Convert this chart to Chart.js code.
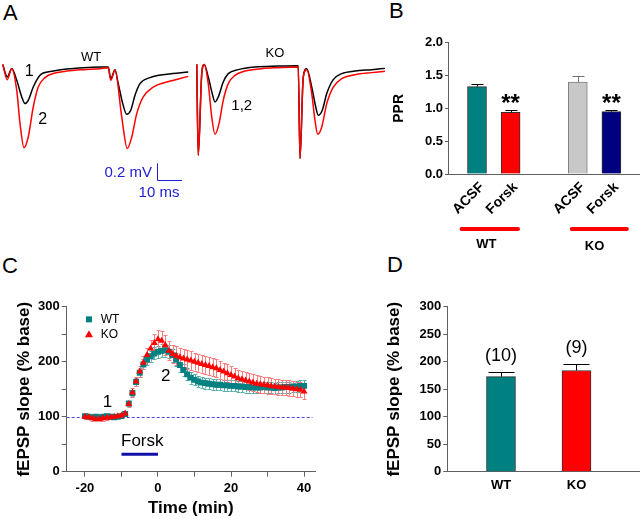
<!DOCTYPE html>
<html>
<head>
<meta charset="utf-8">
<script src="https://cdn.jsdelivr.net/npm/chart.js@4.4.0/dist/chart.umd.min.js"></script>
<style>
  body { margin: 0; background: #fff; }
  #page { position: relative; width: 640px; height: 519px; overflow: hidden; font-family: 'Liberation Sans', Arial, sans-serif; }
  canvas { position: absolute; }
  .letter { position: absolute; font-size: 22px; line-height: 22px; color: #000; }
</style>
</head>
<body>
<div id="page">
  <div class="letter" style="left:3px;top:2px">A</div>
  <div class="letter" style="left:389px;top:0px">B</div>
  <div class="letter" style="left:2px;top:255px">C</div>
  <div class="letter" style="left:387px;top:254px">D</div>
  <canvas id="traces" width="390" height="180" style="left:0;top:30px"></canvas>
  <canvas id="ppr" width="250" height="250" style="left:390px;top:20px"></canvas>
  <canvas id="timecourse" width="330" height="239" style="left:0;top:280px"></canvas>
  <canvas id="ltp" width="270" height="239" style="left:370px;top:280px"></canvas>
</div>
<script>
const FONT = "'Liberation Sans', Arial, sans-serif";
const TEAL = '#008080';
const RED = '#ff0000';
const NAVY = '#000080';
const GRAY = '#c8c8c8';
const AXIS = '#606060';

Chart.defaults.font.family = FONT;
Chart.defaults.color = '#000';

// A : field potential traces, time in ms, amplitude in mV
const wtPreT = [1.1, 2.9, 4.7, 6.7, 8.7, 10.0, 11.3, 13.3, 16.0, 17.3, 21.3, 26.7, 33.3, 40.0, 43.3, 44.3, 46.0, 47.3, 49.1, 50.7, 52.3, 54.0, 56.0, 60.0, 66.7, 75.3];
const wtPreV = [0.035, -0.114, -0.012, -0.153, -0.349, -0.427, -0.388, -0.232, -0.094, -0.067, -0.044, -0.020, -0.004, 0.004, 0.004, -0.133, -0.027, -0.192, -0.427, -0.553, -0.506, -0.329, -0.192, -0.121, -0.082, -0.055];
const wtForskT = [1.1, 2.9, 4.7, 6.7, 8.0, 9.6, 11.3, 13.3, 15.3, 18.0, 22.0, 26.7, 33.3, 40.0, 43.3, 44.3, 46.0, 48.7, 50.9, 52.7, 54.7, 57.3, 61.3, 66.7, 75.3];
const wtForskV = [0.035, -0.145, -0.015, -0.271, -0.659, -0.945, -0.820, -0.467, -0.232, -0.121, -0.067, -0.044, -0.027, -0.015, -0.004, -0.153, -0.035, -0.585, -0.956, -0.820, -0.545, -0.349, -0.232, -0.173, -0.106];
const koPreT = [78.7, 79.3, 80.7, 81.7, 83.3, 84.9, 86.0, 87.3, 89.3, 91.3, 95.3, 102.0, 111.3, 119.3, 120.0, 121.3, 122.7, 124.7, 126.3, 127.3, 128.9, 130.7, 133.3, 136.7, 142.0, 148.7, 154.0];
const koPreV = [0.035, -1.035, -0.074, 0.035, -0.114, -0.309, -0.408, -0.349, -0.173, -0.074, -0.027, 0.004, 0.015, 0.020, -1.074, -0.114, -0.015, -0.232, -0.467, -0.565, -0.506, -0.309, -0.145, -0.074, -0.044, -0.027, -0.012];
const koForskT = [78.7, 79.3, 80.7, 81.7, 83.3, 84.7, 86.0, 87.6, 89.3, 91.3, 94.0, 98.0, 104.7, 111.3, 119.3, 120.0, 121.3, 122.7, 124.7, 126.0, 127.1, 128.7, 130.7, 133.3, 136.7, 142.0, 148.7, 154.0];
const koForskV = [0.035, -1.035, -0.074, 0.035, -0.192, -0.585, -0.788, -0.662, -0.388, -0.192, -0.094, -0.044, -0.015, -0.004, 0.004, -1.074, -0.114, -0.027, -0.309, -0.624, -0.788, -0.702, -0.427, -0.232, -0.133, -0.086, -0.062, -0.047];

// B : paired pulse ratio
const pprGroups = ['ACSF', 'Forsk', 'ACSF', 'Forsk'];
const pprPos = [1, 2, 4, 5];
const pprMean = [1.33, 0.94, 1.40, 0.95];
const pprSem = [0.04, 0.035, 0.09, 0.03];
const pprStars = ['', '**', '', '**'];
const pprColors = [TEAL, RED, GRAY, NAVY];

// C : fEPSP slope time course
const timeMin = [-20, -19, -18, -17, -16, -15, -14, -13, -12, -11, -10, -9, -8, -7, -6, -5, -4, -3, -2, -1, 0,
  1, 2, 3, 4, 5, 6, 7, 8, 9, 10, 11, 12, 13, 14, 15, 16, 17, 18, 19, 20,
  21, 22, 23, 24, 25, 26, 27, 28, 29, 30, 31, 32, 33, 34, 35, 36, 37, 38, 39, 40];
const wtSlope = [101, 100, 99, 100, 99, 100, 101, 100, 99, 100, 101,
  105, 124, 143, 163, 180, 195, 204, 210, 215, 218,
  220, 221, 218, 212, 204, 194, 185, 177, 171, 167,
  164, 162, 161, 160, 159, 158, 158, 157, 157, 156,
  156, 155, 155, 154, 154, 153, 153, 153, 154, 153,
  153, 152, 153, 153, 154, 154, 155, 155, 156, 156];
const wtSem = [3, 3, 3, 3, 3, 3, 3, 3, 3, 3, 3,
  4, 5, 6, 7, 8, 9, 10, 10, 11, 11,
  12, 12, 12, 12, 12, 12, 11, 11, 11, 10,
  10, 10, 10, 10, 10, 10, 10, 10, 10, 10,
  10, 10, 10, 10, 10, 10, 10, 10, 10, 10,
  10, 10, 10, 10, 10, 10, 10, 10, 11, 11];
const koSlope = [100, 99, 97, 96, 96, 97, 98, 99, 100, 101, 102,
  106, 123, 144, 164, 182, 198, 212, 224, 234, 241,
  238, 230, 220, 214, 211, 208, 206, 204, 202, 200,
  198, 196, 194, 192, 190, 188, 185, 182, 179, 176,
  173, 170, 168, 166, 164, 162, 160, 159, 158, 157,
  156, 155, 154, 153, 153, 152, 151, 150, 149, 146];
const koSem = [4, 4, 4, 4, 4, 4, 4, 4, 4, 4, 4,
  5, 6, 8, 9, 10, 12, 13, 15, 16, 17,
  18, 18, 17, 17, 17, 17, 17, 17, 17, 16,
  16, 16, 16, 16, 16, 16, 16, 16, 16, 16,
  15, 15, 15, 15, 15, 15, 15, 15, 15, 15,
  14, 14, 14, 14, 14, 14, 14, 14, 14, 14];

// D : potentiation summary
const ltpGroups = ['WT', 'KO'];
const ltpPos = [1, 2];
const ltpMean = [173, 184];
const ltpSem = [9, 12];
const ltpN = [10, 9];
const ltpColors = [TEAL, RED];

function pts(xs, ys) {
  return xs.map((x, i) => ({ x: x, y: ys[i] }));
}

function drawErrors(chart, upOnly) {
  const ctx = chart.ctx;
  chart.data.datasets.forEach((ds, i) => {
    if (!ds.errors) return;
    const meta = chart.getDatasetMeta(i);
    const yScale = chart.scales[meta.yAxisID];
    ctx.save();
    ctx.lineWidth = 1;
    meta.data.forEach((el, j) => {
      const v = ds.data[j].y;
      const e = ds.errors[j];
      const x = Math.round(el.x) + 0.5;
      const top = Math.round(yScale.getPixelForValue(v + e)) + 0.5;
      const bot = yScale.getPixelForValue(upOnly ? v : v - e);
      const cap = ds.capHalf || 2;
      ctx.strokeStyle = Array.isArray(ds.errorColor) ? ds.errorColor[j] : ds.errorColor;
      ctx.beginPath();
      ctx.moveTo(x, top);
      ctx.lineTo(x, bot);
      ctx.moveTo(x - cap, top);
      ctx.lineTo(x + cap, top);
      if (!upOnly) {
        ctx.moveTo(x - cap, Math.round(bot) + 0.5);
        ctx.lineTo(x + cap, Math.round(bot) + 0.5);
      }
      ctx.stroke();
    });
    ctx.restore();
  });
}

function text(ctx, str, x, y, size, opts) {
  opts = opts || {};
  ctx.font = (opts.bold ? 'bold ' : '') + size + 'px ' + FONT;
  ctx.fillStyle = opts.color || '#000';
  ctx.textAlign = opts.align || 'center';
  ctx.textBaseline = opts.baseline || 'middle';
  ctx.fillText(str, x, y);
}

const noLegend = { legend: { display: false }, tooltip: { enabled: false } };

// ---------- A ----------
const traceNotes = {
  id: 'traceNotes',
  afterDraw(chart) {
    const { ctx, scales: { x, y } } = chart;
    ctx.save();
    text(ctx, 'WT', x.getPixelForValue(36.4), y.getPixelForValue(0.118), 13);
    text(ctx, '1', x.getPixelForValue(11.7), y.getPixelForValue(-0.055), 16);
    text(ctx, '2', x.getPixelForValue(17.1), y.getPixelForValue(-0.615), 16);
    text(ctx, 'KO', x.getPixelForValue(110), y.getPixelForValue(0.165), 13);
    text(ctx, '1,2', x.getPixelForValue(96.7), y.getPixelForValue(-0.459), 15);

    // scale bar 0.2 mV / 10 ms
    const bx = Math.round(x.getPixelForValue(62.8)) + 0.5;
    const by = Math.round(y.getPixelForValue(-1.33)) + 0.5;
    ctx.strokeStyle = '#2020d0';
    ctx.lineWidth = 1;
    ctx.beginPath();
    ctx.moveTo(bx, y.getPixelForValue(-1.13));
    ctx.lineTo(bx, by);
    ctx.lineTo(x.getPixelForValue(72.8), by);
    ctx.stroke();
    text(ctx, '0.2 mV', x.getPixelForValue(60.8), y.getPixelForValue(-1.244), 15, { align: 'right', color: '#2020d0' });
    text(ctx, '10 ms', x.getPixelForValue(63.6), y.getPixelForValue(-1.479), 15, { color: '#2020d0' });
    ctx.restore();
  }
};

new Chart(document.getElementById('traces'), {
  type: 'scatter',
  data: {
    datasets: [
      { data: pts(wtPreT, wtPreV), borderColor: '#000', showLine: true, order: 2 },
      { data: pts(wtForskT, wtForskV), borderColor: RED, showLine: true, order: 1 },
      { data: pts(koPreT, koPreV), borderColor: '#000', showLine: true, order: 2 },
      { data: pts(koForskT, koForskV), borderColor: RED, showLine: true, order: 1 }
    ]
  },
  options: {
    responsive: false,
    animation: false,
    layout: { padding: 0 },
    elements: {
      point: { radius: 0 },
      line: { borderWidth: 1.5, cubicInterpolationMode: 'monotone' }
    },
    plugins: noLegend,
    scales: {
      x: { type: 'linear', display: false, min: 0, max: 156 },
      y: { type: 'linear', display: false, min: -1.68, max: 0.44 }
    }
  },
  plugins: [traceNotes]
});

// ---------- B ----------
const pprNotes = {
  id: 'pprNotes',
  afterDatasetsDraw(chart) {
    drawErrors(chart, true);
    const { ctx, scales: { x, y } } = chart;
    ctx.save();
    pprPos.forEach((p, i) => {
      if (!pprStars[i]) return;
      text(ctx, pprStars[i], x.getPixelForValue(p), y.getPixelForValue(pprMean[i] + pprSem[i]) + 1, 24, { bold: true, baseline: 'alphabetic' });
    });
    const lineY = y.bottom + 55;
    [[0.54, 2.22], [3.82, 5.46]].forEach(g => {
      ctx.strokeStyle = RED;
      ctx.lineWidth = 4;
      ctx.lineCap = 'round';
      ctx.beginPath();
      ctx.moveTo(x.getPixelForValue(g[0]), lineY);
      ctx.lineTo(x.getPixelForValue(g[1]), lineY);
      ctx.stroke();
    });
    text(ctx, 'WT', x.getPixelForValue(1.28), y.bottom + 70, 13, { bold: true });
    text(ctx, 'KO', x.getPixelForValue(4.5), y.bottom + 72, 13, { bold: true });
    ctx.restore();
  }
};

new Chart(document.getElementById('ppr'), {
  type: 'bar',
  data: {
    datasets: [{
      data: pts(pprPos, pprMean),
      errors: pprSem,
      errorColor: ['#000', '#000', '#707070', '#000'],
      capHalf: 6,
      backgroundColor: pprColors,
      borderColor: ['#303030', '#303030', '#808080', '#303030'],
      borderWidth: 1,
      barThickness: 19
    }]
  },
  options: {
    responsive: false,
    animation: false,
    layout: { padding: { left: 0, top: 22.7, right: 0, bottom: 36 } },
    plugins: noLegend,
    scales: {
      x: {
        type: 'linear', min: 0.137, max: 5.851, offset: false,
        afterBuildTicks: s => { s.ticks = pprPos.map(v => ({ value: v })); },
        afterFit: s => { s.height = 60; },
        grid: { display: false, drawTicks: false, offset: false },
        border: { display: true, color: AXIS },
        ticks: {
          autoSkip: false, minRotation: 45, maxRotation: 45, padding: 5, labelOffset: 5,
          color: '#000', font: { size: 14, weight: 'bold' },
          callback: v => pprGroups[pprPos.indexOf(v)] || ''
        }
      },
      y: {
        min: 0, max: 2,
        afterBuildTicks: s => { s.ticks = [0, 0.25, 0.5, 0.75, 1, 1.25, 1.5, 1.75, 2].map(v => ({ value: v })); },
        afterFit: s => { s.width = 58; },
        grid: { drawOnChartArea: false, tickLength: 3, color: AXIS },
        border: { display: true, color: AXIS },
        ticks: {
          padding: 2, color: '#000', font: { size: 13, weight: 'bold' },
          callback: v => (v * 2) % 1 === 0 ? v.toFixed(1) : ''
        },
        title: { display: true, text: 'PPR', color: '#000', font: { size: 14, weight: 'bold' }, padding: { top: 1, bottom: 0 } }
      }
    }
  },
  plugins: [pprNotes]
});

// ---------- C ----------
const timeNotes = {
  id: 'timeNotes',
  beforeDatasetsDraw(chart) {
    const { ctx, scales: { x, y } } = chart;
    ctx.save();
    ctx.strokeStyle = '#4a4ad0';
    ctx.lineWidth = 1;
    ctx.setLineDash([3, 2]);
    const by = Math.round(y.getPixelForValue(100)) + 0.5;
    ctx.beginPath();
    ctx.moveTo(x.left, by);
    ctx.lineTo(x.getPixelForValue(42.3), by);
    ctx.stroke();
    ctx.restore();
    drawErrors(chart, false);
  },
  afterDatasetsDraw(chart) {
    const { ctx, scales: { x, y } } = chart;
    ctx.save();
    text(ctx, '1', x.getPixelForValue(-13.8), y.getPixelForValue(127), 17);
    text(ctx, '2', x.getPixelForValue(2.1), y.getPixelForValue(173), 17);
    text(ctx, 'Forsk', x.getPixelForValue(-4.3), y.getPixelForValue(56), 17);
    ctx.strokeStyle = '#1010a8';
    ctx.lineWidth = 3;
    ctx.beginPath();
    ctx.moveTo(x.getPixelForValue(-10), y.getPixelForValue(31.6));
    ctx.lineTo(x.getPixelForValue(0), y.getPixelForValue(31.6));
    ctx.stroke();

    // legend
    const lx = x.getPixelForValue(-18.9);
    const wy = y.getPixelForValue(277);
    const ky = y.getPixelForValue(250);
    ctx.fillStyle = TEAL;
    ctx.fillRect(lx - 3, wy - 3, 6, 6);
    ctx.fillStyle = RED;
    ctx.beginPath();
    ctx.moveTo(lx, ky - 4);
    ctx.lineTo(lx + 4, ky + 3);
    ctx.lineTo(lx - 4, ky + 3);
    ctx.closePath();
    ctx.fill();
    text(ctx, 'WT', x.getPixelForValue(-15.7), wy, 12, { align: 'left' });
    text(ctx, 'KO', x.getPixelForValue(-15.7), ky, 12, { align: 'left' });
    ctx.restore();
  }
};

new Chart(document.getElementById('timecourse'), {
  type: 'scatter',
  data: {
    datasets: [
      {
        label: 'WT', data: pts(timeMin, wtSlope), errors: wtSem, errorColor: '#5aadad', capHalf: 2,
        pointStyle: 'rect', pointRadius: 4.2, pointBorderWidth: 0,
        backgroundColor: TEAL, borderColor: TEAL, order: 2
      },
      {
        label: 'KO', data: pts(timeMin, koSlope), errors: koSem, errorColor: '#ff7a7a', capHalf: 2,
        pointStyle: 'triangle', pointRadius: 4, pointBorderWidth: 0,
        backgroundColor: RED, borderColor: RED, order: 1
      }
    ]
  },
  options: {
    responsive: false,
    animation: false,
    layout: { padding: { left: 0, top: 26.7, right: 15, bottom: 0 } },
    plugins: noLegend,
    scales: {
      x: {
        type: 'linear', min: -25, max: 43,
        afterBuildTicks: s => { s.ticks = [-20, -10, 0, 10, 20, 30, 40].map(v => ({ value: v })); },
        afterFit: s => { s.height = 47.3; },
        grid: { drawOnChartArea: false, tickLength: 5, color: AXIS },
        border: { display: true, color: AXIS },
        ticks: {
          autoSkip: false, maxRotation: 0, padding: 4, color: '#000', font: { size: 13, weight: 'bold' },
          callback: v => v % 20 === 0 ? String(v) : ''
        },
        title: { display: true, text: 'Time (min)', color: '#000', font: { size: 17, weight: 'bold' }, padding: { top: 0, bottom: 0 } }
      },
      y: {
        min: 0, max: 300,
        afterBuildTicks: s => { s.ticks = [0, 50, 100, 150, 200, 250, 300].map(v => ({ value: v })); },
        afterFit: s => { s.width = 66.7; },
        grid: { drawOnChartArea: false, tickLength: 5, color: AXIS },
        border: { display: true, color: AXIS },
        ticks: {
          padding: 2, color: '#000', font: { size: 13, weight: 'bold' },
          callback: v => v % 100 === 0 ? String(v) : ''
        },
        title: { display: true, text: 'fEPSP slope (% base)', color: '#000', font: { size: 17, weight: 'bold' }, padding: { top: 13.8, bottom: 0 } }
      }
    }
  },
  plugins: [timeNotes]
});

// ---------- D ----------
const ltpNotes = {
  id: 'ltpNotes',
  afterDatasetsDraw(chart) {
    drawErrors(chart, true);
    const { ctx, scales: { x, y } } = chart;
    ctx.save();
    ltpPos.forEach((p, i) => {
      text(ctx, '(' + ltpN[i] + ')', x.getPixelForValue(p), y.getPixelForValue(ltpMean[i] + ltpSem[i]) - 16, 18);
    });
    ctx.restore();
  }
};

new Chart(document.getElementById('ltp'), {
  type: 'bar',
  data: {
    datasets: [{
      data: pts(ltpPos, ltpMean),
      errors: ltpSem,
      errorColor: '#000',
      capHalf: 13,
      backgroundColor: ltpColors,
      borderColor: '#303030',
      borderWidth: 1,
      barThickness: 29
    }]
  },
  options: {
    responsive: false,
    animation: false,
    layout: { padding: { left: 0, top: 26.7, right: 0, bottom: 0 } },
    plugins: noLegend,
    scales: {
      x: {
        type: 'linear', min: 0.289, max: 2.841, offset: false,
        afterBuildTicks: s => { s.ticks = ltpPos.map(v => ({ value: v })); },
        afterFit: s => { s.height = 47.3; },
        grid: { display: false, drawTicks: false, offset: false },
        border: { display: true, color: AXIS },
        ticks: {
          autoSkip: false, maxRotation: 0, padding: 5.5, color: '#000', font: { size: 13, weight: 'bold' },
          callback: v => ltpGroups[ltpPos.indexOf(v)] || ''
        }
      },
      y: {
        min: 0, max: 300,
        afterBuildTicks: s => { s.ticks = [0, 25, 50, 75, 100, 125, 150, 175, 200, 225, 250, 275, 300].map(v => ({ value: v })); },
        afterFit: s => { s.width = 77.3; },
        grid: { drawOnChartArea: false, tickLength: 4, color: AXIS },
        border: { display: true, color: AXIS },
        ticks: {
          padding: 2, color: '#000', font: { size: 13, weight: 'bold' },
          callback: v => v % 50 === 0 ? String(v) : ''
        },
        title: { display: true, text: 'fEPSP slope (% base)', color: '#000', font: { size: 17, weight: 'bold' }, padding: { top: 14.5, bottom: 0 } }
      }
    }
  },
  plugins: [ltpNotes]
});
</script>
</body>
</html>
